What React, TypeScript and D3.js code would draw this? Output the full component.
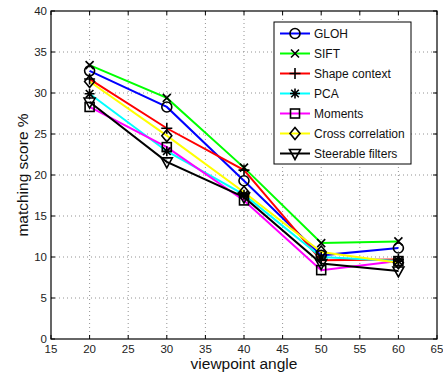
import React from "react";
import * as d3 from "d3";

const angles = [20, 30, 40, 50, 60];
const seriesNames = ["GLOH", "SIFT", "Shape context", "PCA", "Moments", "Cross correlation", "Steerable filters"];
const seriesColors = ["#0000ff", "#00ff00", "#ff0000", "#00ffff", "#ff00ff", "#ffff00", "#000000"];
const seriesMarkers = ["circle", "x", "plus", "star", "square", "diamond", "triangle"];
const gloh = [32.7, 28.3, 19.3, 10.2, 11.1];
const sift = [33.4, 29.4, 20.9, 11.7, 11.9];
const shapeContext = [31.7, 25.7, 20.6, 9.6, 9.7];
const pca = [29.9, 22.9, 17.6, 10.0, 9.5];
const moments = [28.3, 23.4, 16.9, 8.4, 9.5];
const crossCorrelation = [31.4, 24.8, 17.9, 10.6, 9.3];
const steerable = [28.9, 21.6, 17.3, 9.2, 8.3];
const xTicks = [15, 20, 25, 30, 35, 40, 45, 50, 55, 60, 65];
const yTicks = [0, 5, 10, 15, 20, 25, 30, 35, 40];

const allSeries = [gloh, sift, shapeContext, pca, moments, crossCorrelation, steerable];

const W = 443;
const H = 376;
const left = 51, right = 437, top = 11, bottom = 339;
const font = "'Liberation Sans', Arial, Helvetica, sans-serif";

// matlab-ish marker shapes, drawn black
const Marker = ({type, x, y}: {type: string; x: number; y: number}) => {
    const s = {fill: "none", stroke: "#000", strokeWidth: 1.6};
    switch (type) {
        case "circle":
            return <circle cx={x} cy={y} r={5} {...s} />;
        case "x":
            return <path d={`M${x - 4},${y - 4}L${x + 4},${y + 4}M${x - 4},${y + 4}L${x + 4},${y - 4}`} {...s} />;
        case "plus":
            return <path d={`M${x - 5.5},${y}L${x + 5.5},${y}M${x},${y - 5.5}L${x},${y + 5.5}`} {...s} />;
        case "star":
            return <path d={`M${x - 5},${y}L${x + 5},${y}M${x},${y - 5}L${x},${y + 5}M${x - 3.8},${y - 3.8}L${x + 3.8},${y + 3.8}M${x - 3.8},${y + 3.8}L${x + 3.8},${y - 3.8}`} {...s} />;
        case "square":
            return <rect x={x - 4.5} y={y - 4.5} width={9} height={9} {...s} />;
        case "diamond":
            return <path d={`M${x},${y - 6}L${x + 5},${y}L${x},${y + 6}L${x - 5},${y}Z`} {...s} />;
        case "triangle":
            return <path d={`M${x - 5.5},${y - 4}L${x + 5.5},${y - 4}L${x},${y + 6}Z`} {...s} />;
        default:
            return null;
    }
};

export default function App() {
    const x = d3.scaleLinear().domain([15, 65]).range([left, right]);
    const y = d3.scaleLinear().domain([0, 40]).range([bottom, top]);
    const line = d3.line<number>().x((_, i) => x(angles[i])).y(d => y(d));

    const legX = 274, legY = 22, legW = 137, legH = 142;

    return (
        <svg width={W} height={H} style={{position: "absolute", left: 0, top: 0, background: "#fff"}}
             fontFamily={font}>
            {/* grid */}
            {xTicks.slice(1, -1).map(t => (
                <line key={"gx" + t} x1={x(t)} x2={x(t)} y1={top} y2={bottom}
                      stroke="#777" strokeWidth={0.8} strokeDasharray="1,3" />
            ))}
            {yTicks.slice(1, -1).map(t => (
                <line key={"gy" + t} x1={left} x2={right} y1={y(t)} y2={y(t)}
                      stroke="#777" strokeWidth={0.8} strokeDasharray="1,3" />
            ))}

            {/* series lines */}
            {allSeries.map((s, i) => (
                <path key={"l" + i} d={line(s) || ""} fill="none" stroke={seriesColors[i]} strokeWidth={2} />
            ))}
            {allSeries.map((s, i) => (
                <g key={"m" + i}>
                    {s.map((v, j) => <Marker key={j} type={seriesMarkers[i]} x={x(angles[j])} y={y(v)} />)}
                </g>
            ))}

            {/* box + ticks */}
            <rect x={left} y={top} width={right - left} height={bottom - top} fill="none" stroke="#000" strokeWidth={1.2} />
            {xTicks.map(t => (
                <g key={"tx" + t}>
                    <line x1={x(t)} x2={x(t)} y1={bottom} y2={bottom - 4} stroke="#000" />
                    <line x1={x(t)} x2={x(t)} y1={top} y2={top + 4} stroke="#000" />
                    <text x={x(t)} y={353} fontSize={11.5} textAnchor="middle" fill="#222">{t}</text>
                </g>
            ))}
            {yTicks.map(t => (
                <g key={"ty" + t}>
                    <line x1={left} x2={left + 4} y1={y(t)} y2={y(t)} stroke="#000" />
                    <line x1={right} x2={right - 4} y1={y(t)} y2={y(t)} stroke="#000" />
                    <text x={47} y={y(t)} dy="0.35em" fontSize={11.5} textAnchor="end" fill="#222">{t}</text>
                </g>
            ))}

            {/* axis labels */}
            <text x={(left + right) / 2} y={369} fontSize={15.5} textAnchor="middle" fill="#111">viewpoint angle</text>
            <text transform={`translate(28,${(top + bottom) / 2}) rotate(-90)`} fontSize={15.5}
                  textAnchor="middle" fill="#111">matching score %</text>

            {/* legend */}
            <rect x={legX} y={legY} width={legW} height={legH} fill="#fff" stroke="#000" strokeWidth={1} />
            {seriesNames.map((name, i) => {
                const cy = 33.5 + i * 20;
                return (
                    <g key={"leg" + i}>
                        <line x1={280} x2={310} y1={cy} y2={cy} stroke={seriesColors[i]} strokeWidth={2} />
                        <Marker type={seriesMarkers[i]} x={295} y={cy} />
                        <text x={314} y={cy} dy="0.36em" fontSize={12} fill="#111">{name}</text>
                    </g>
                );
            })}
        </svg>
    );
}
